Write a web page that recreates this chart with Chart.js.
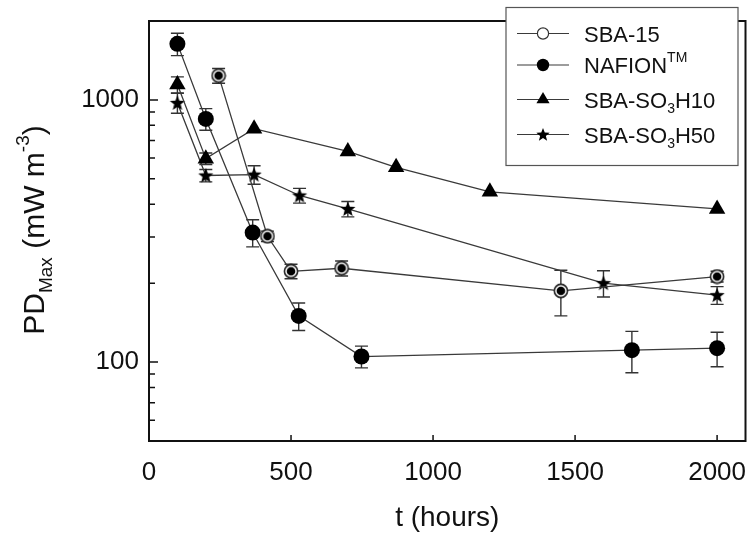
<!DOCTYPE html>
<html><head><meta charset="utf-8">
<script src="https://cdn.jsdelivr.net/npm/chart.js@4.4.1/dist/chart.umd.min.js"></script>
<style>html,body{margin:0;padding:0;background:#fff}</style>
</head><body>
<canvas id="c" width="755" height="534"></canvas>
<script>
// ---- data ----
const sba15T = [245, 417, 500, 678, 1450, 2000];
const sba15V = [1238, 302, 222, 228, 187, 212];
const sba15E = [80, 14, 14, 15, 37, 10];
const nafionT = [100, 200, 365, 527, 748, 1700, 2000];
const nafionV = [1636, 846, 312, 150, 105, 111, 113];
const nafionE = [160, 80, 37, 18, 10, 20, 17];
const h10T = [100, 200, 370, 700, 870, 1200, 2000];
const h10V = [1144, 597, 777, 636, 553, 446, 384];
const h10E = [80, 30, 0, 0, 0, 0, 0];
const h50T = [100, 200, 370, 530, 700, 1600, 2000];
const h50V = [974, 515, 519, 432, 384, 200, 180];
const h50E = [85, 28, 42, 28, 26, 23, 14];
const xTicks = [0, 500, 1000, 1500, 2000];
const yTicks = [100, 1000];
const yMinor = [60, 70, 80, 90, 200, 300, 400, 500, 600, 700, 800, 900];
// legend label parts: [text, kind]
const labelSBA15 = [['SBA-15', 'n']];
const labelNafion = [['NAFION', 'n'], ['TM', 'sup']];
const labelH10 = [['SBA-SO', 'n'], ['3', 'sub'], ['H10', 'n']];
const labelH50 = [['SBA-SO', 'n'], ['3', 'sub'], ['H50', 'n']];
const yTitle = [['PD', 'n'], ['Max', 'sub'], [' (mW m', 'n'], ['-3', 'sup'], [')', 'n']];
const xTitle = 't (hours)';

const FONT = "'Liberation Sans', Arial, Helvetica, sans-serif";
const LINE = '#3a3a3a';

function mkCanvas(s) { const c = document.createElement('canvas'); c.width = s; c.height = s; return c; }
function starPath(ctx, cx, cy, ro, ri) {
  ctx.beginPath();
  for (let i = 0; i < 10; i++) {
    const a = -Math.PI / 2 + i * Math.PI / 5, r = i % 2 ? ri : ro;
    const px = cx + r * Math.cos(a), py = cy + r * Math.sin(a);
    i ? ctx.lineTo(px, py) : ctx.moveTo(px, py);
  }
  ctx.closePath();
}
const ringImg = (() => { const c = mkCanvas(16), g = c.getContext('2d');
  g.beginPath(); g.arc(8, 8, 6.6, 0, Math.PI * 2); g.fillStyle = '#fff'; g.fill();
  g.lineWidth = 1.6; g.strokeStyle = '#222'; g.stroke();
  g.beginPath(); g.arc(8, 8, 4.3, 0, Math.PI * 2); g.fillStyle = '#000'; g.fill(); return c; })();
const starImg = (() => { const c = mkCanvas(18), g = c.getContext('2d');
  starPath(g, 9, 9.5, 8, 3.4); g.fillStyle = '#000'; g.fill(); return c; })();

function pts(t, v) { return t.map((x, i) => ({ x: x, y: v[i] })); }
const errs = [sba15E, nafionE, h10E, h50E];

const datasets = [
  { label: 'SBA-15', data: pts(sba15T, sba15V), pointStyle: ringImg },
  { label: 'NAFION', data: pts(nafionT, nafionV), pointStyle: 'circle', pointRadius: 8 },
  { label: 'SBA-SO3H10', data: pts(h10T, h10V), pointStyle: 'triangle', pointRadius: 9.5 },
  { label: 'SBA-SO3H50', data: pts(h50T, h50V), pointStyle: starImg }
].map(d => Object.assign({ borderColor: LINE, borderWidth: 1.3, backgroundColor: '#000',
  pointBackgroundColor: '#000', pointBorderColor: '#000', pointBorderWidth: 0, pointRadius: 8,
  showLine: true, tension: 0 }, d));

function drawParts(ctx, parts, x, y, size, align) {
  const sm = Math.round(size * 0.62);
  let w = 0;
  parts.forEach(p => { ctx.font = (p[1] === 'n' ? size : sm) + 'px ' + FONT; w += ctx.measureText(p[0]).width; });
  let cx = align === 'center' ? x - w / 2 : x;
  parts.forEach(p => {
    ctx.font = (p[1] === 'n' ? size : sm) + 'px ' + FONT;
    const dy = p[1] === 'sub' ? size * 0.26 : p[1] === 'sup' ? -size * 0.5 : 0;
    ctx.textAlign = 'left'; ctx.textBaseline = 'alphabetic';
    ctx.fillText(p[0], cx, y + dy);
    cx += ctx.measureText(p[0]).width;
  });
}

const decor = {
  id: 'decor',
  beforeDatasetsDraw(chart) {
    const { ctx, scales: { x, y } } = chart;
    ctx.save();
    ctx.strokeStyle = '#333'; ctx.lineWidth = 1.4;
    datasets.forEach((d, k) => {
      d.data.forEach((p, i) => {
        const e = errs[k][i]; if (!e) return;
        const px = x.getPixelForValue(p.x), y1 = y.getPixelForValue(p.y + e), y2 = y.getPixelForValue(p.y - e);
        ctx.beginPath();
        ctx.moveTo(px, y1); ctx.lineTo(px, y2);
        ctx.moveTo(px - 6.5, y1); ctx.lineTo(px + 6.5, y1);
        ctx.moveTo(px - 6.5, y2); ctx.lineTo(px + 6.5, y2);
        ctx.stroke();
      });
    });
    ctx.restore();
  },
  afterDraw(chart) {
    const { ctx, chartArea: a, scales: { x, y } } = chart;
    ctx.save();
    // frame
    ctx.strokeStyle = '#111'; ctx.lineWidth = 2;
    ctx.strokeRect(a.left, a.top, a.right - a.left, a.bottom - a.top);
    // inside ticks
    ctx.lineWidth = 1.5;
    ctx.beginPath();
    xTicks.forEach(v => { const px = x.getPixelForValue(v); if (v === 0) return; ctx.moveTo(px, a.bottom); ctx.lineTo(px, a.bottom - 6); });
    yTicks.forEach(v => { const py = y.getPixelForValue(v); ctx.moveTo(a.left, py); ctx.lineTo(a.left + 9, py); });
    yMinor.forEach(v => { const py = y.getPixelForValue(v); ctx.moveTo(a.left, py); ctx.lineTo(a.left + 6, py); });
    ctx.stroke();
    // axis titles
    ctx.fillStyle = '#111';
    ctx.font = '28px ' + FONT; ctx.textAlign = 'center'; ctx.textBaseline = 'alphabetic';
    ctx.fillText(xTitle, (a.left + a.right) / 2, 526);
    ctx.save();
    ctx.translate(44, 230); ctx.rotate(-Math.PI / 2);
    drawParts(ctx, yTitle, 0, 0, 30, 'center');
    ctx.restore();
    // legend
    const lx = 506, ly = 7.5, lw = 232, lh = 158;
    ctx.fillStyle = '#fff'; ctx.fillRect(lx, ly, lw, lh);
    ctx.strokeStyle = '#555'; ctx.lineWidth = 1.2; ctx.strokeRect(lx, ly, lw, lh);
    const rows = [33.5, 65, 99.5, 134.5];
    const labs = [labelSBA15, labelNafion, labelH10, labelH50];
    rows.forEach((ry, i) => {
      ctx.strokeStyle = LINE; ctx.lineWidth = 1.2;
      ctx.beginPath(); ctx.moveTo(517, ry); ctx.lineTo(569, ry); ctx.stroke();
      const mx = 543;
      ctx.fillStyle = '#000';
      if (i === 0) { ctx.beginPath(); ctx.arc(mx, ry, 5.6, 0, Math.PI * 2); ctx.fillStyle = '#fff'; ctx.fill(); ctx.strokeStyle = '#333'; ctx.lineWidth = 1.2; ctx.stroke(); }
      else if (i === 1) { ctx.beginPath(); ctx.arc(mx, ry, 6.2, 0, Math.PI * 2); ctx.fill(); }
      else if (i === 2) { const r = 7.6; ctx.beginPath(); ctx.moveTo(mx, ry - r); ctx.lineTo(mx + r * 0.866, ry + r * 0.5); ctx.lineTo(mx - r * 0.866, ry + r * 0.5); ctx.closePath(); ctx.fill(); }
      else { starPath(ctx, mx, ry + 0.5, 7, 3); ctx.fill(); }
      ctx.fillStyle = '#111';
      drawParts(ctx, labs[i], 584, ry + 8, 22, 'left');
    });
    ctx.restore();
  }
};

new Chart(document.getElementById('c'), {
  type: 'scatter',
  data: { datasets: datasets },
  options: {
    responsive: false, animation: false, devicePixelRatio: 1,
    layout: { padding: { left: 0, right: 8, top: 21, bottom: 0 } },
    plugins: { legend: { display: false }, tooltip: { enabled: false } },
    scales: {
      x: {
        type: 'linear', min: 0, max: 2100,
        grid: { display: false, drawTicks: false }, border: { display: false },
        afterBuildTicks: s => { s.ticks = xTicks.map(v => ({ value: v })); },
        afterFit: s => { s.height = 93; s.paddingLeft = 0; s.paddingRight = 0; },
        ticks: { padding: 16, color: '#111', font: { family: FONT, size: 26 }, maxRotation: 0, autoSkip: false, callback: v => String(v) }
      },
      y: {
        type: 'logarithmic', min: 50, max: 2000,
        grid: { display: false, drawTicks: false }, border: { display: false },
        afterBuildTicks: s => { s.ticks = yTicks.map(v => ({ value: v })); },
        afterFit: s => { s.width = 149; s.paddingTop = 0; s.paddingBottom = 0; },
        ticks: { padding: 10, color: '#111', font: { family: FONT, size: 26 }, callback: v => String(v), autoSkip: false }
      }
    }
  },
  plugins: [decor]
});
</script>
</body></html>
